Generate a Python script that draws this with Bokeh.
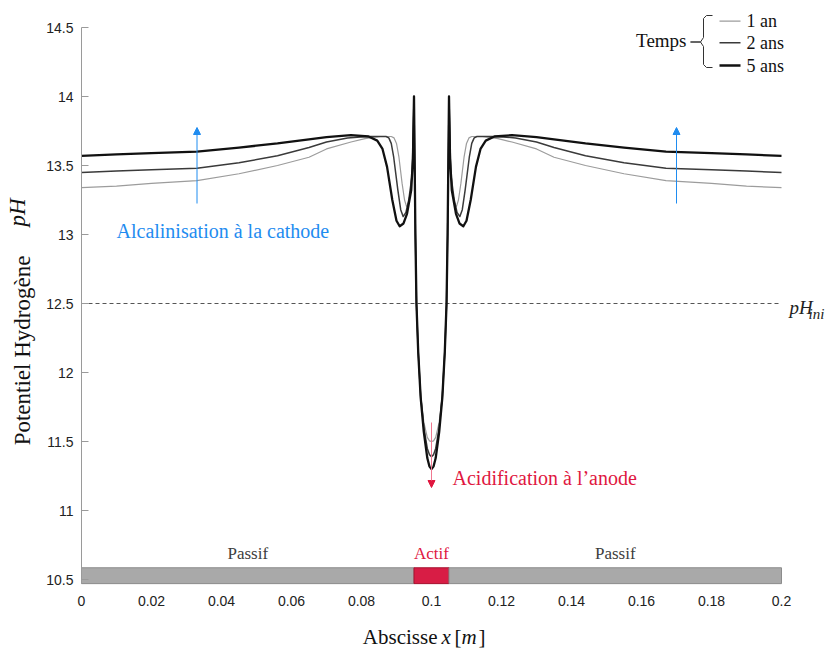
import math
from bokeh.plotting import figure
from bokeh.models import Label, Arrow, NormalHead, FixedTicker, Range1d, LinearAxis
from bokeh.embed import file_html
from bokeh.resources import INLINE

# ---------------- data ----------------
series_names = ["1 an", "2 ans", "5 ans"]

x_1an = [0.000, 0.010, 0.020, 0.033, 0.045, 0.056, 0.065, 0.070, 0.077, 0.081, 0.0854, 0.0885,
         0.0893, 0.0900, 0.0907, 0.0916, 0.0923, 0.0929, 0.0935, 0.0940, 0.0946, 0.0950,
         0.0952, 0.0954, 0.0957, 0.0962, 0.0969, 0.0978, 0.0988, 0.0994, 0.1000,
         0.1006, 0.1012, 0.1022, 0.1031, 0.1038, 0.1043, 0.1046, 0.1048, 0.1050,
         0.1054, 0.1060, 0.1065, 0.1071, 0.1077, 0.1084, 0.1093, 0.1100, 0.1107, 0.1115,
         0.1146, 0.119, 0.123, 0.130, 0.135, 0.144, 0.155, 0.167, 0.180, 0.190, 0.200]
ph_1an = [13.34, 13.35, 13.37, 13.39, 13.44, 13.50, 13.56, 13.62, 13.67, 13.695, 13.71, 13.71,
          13.70, 13.66, 13.56, 13.37, 13.25, 13.20, 13.23, 13.32, 13.55, 14.00,
          13.50, 13.00, 12.50, 12.15, 11.84, 11.64, 11.53, 11.505, 11.50,
          11.505, 11.53, 11.64, 11.84, 12.15, 12.50, 13.00, 13.50, 14.00,
          13.55, 13.32, 13.23, 13.20, 13.25, 13.37, 13.56, 13.66, 13.70, 13.71,
          13.71, 13.695, 13.67, 13.62, 13.56, 13.50, 13.44, 13.39, 13.37, 13.35, 13.34]

x_2ans = [0.000, 0.010, 0.020, 0.033, 0.045, 0.056, 0.065, 0.070, 0.076, 0.0816, 0.0870,
          0.0878, 0.0885, 0.0892, 0.0904, 0.0912, 0.0919, 0.0927, 0.0935, 0.0945, 0.0950,
          0.0952, 0.0954, 0.0957, 0.0962, 0.0969, 0.0978, 0.0988, 0.0994, 0.1000,
          0.1006, 0.1012, 0.1022, 0.1031, 0.1038, 0.1043, 0.1046, 0.1048, 0.1050,
          0.1055, 0.1065, 0.1073, 0.1081, 0.1088, 0.1096, 0.1108, 0.1115, 0.1122, 0.1130,
          0.1184, 0.124, 0.130, 0.135, 0.144, 0.155, 0.167, 0.180, 0.190, 0.200]
ph_2ans = [13.45, 13.46, 13.47, 13.48, 13.52, 13.57, 13.63, 13.67, 13.70, 13.71, 13.71,
           13.70, 13.66, 13.56, 13.32, 13.18, 13.13, 13.16, 13.25, 13.44, 14.00,
           13.50, 13.00, 12.50, 12.15, 11.83, 11.60, 11.45, 11.405, 11.39,
           11.405, 11.45, 11.60, 11.83, 12.15, 12.50, 13.00, 13.50, 14.00,
           13.44, 13.25, 13.16, 13.13, 13.18, 13.32, 13.56, 13.66, 13.70, 13.71,
           13.71, 13.70, 13.67, 13.63, 13.57, 13.52, 13.48, 13.47, 13.46, 13.45]

x_5ans = [0.000, 0.010, 0.020, 0.033, 0.045, 0.056, 0.065, 0.070, 0.077, 0.082, 0.0845,
          0.0860, 0.0873, 0.0888, 0.0900, 0.0909, 0.0920, 0.0930, 0.0942, 0.0947, 0.0950,
          0.0952, 0.0954, 0.0957, 0.0962, 0.0969, 0.0978, 0.0988, 0.0994, 0.1000,
          0.1006, 0.1012, 0.1022, 0.1031, 0.1038, 0.1043, 0.1046, 0.1048, 0.1050,
          0.1053, 0.1058, 0.1070, 0.1080, 0.1091, 0.1100, 0.1112, 0.1127, 0.1140,
          0.1155, 0.118, 0.123, 0.130, 0.135, 0.144, 0.155, 0.167, 0.180, 0.190, 0.200]
ph_5ans = [13.57, 13.58, 13.59, 13.60, 13.63, 13.66, 13.69, 13.705, 13.72, 13.71, 13.68,
           13.62, 13.49, 13.25, 13.10, 13.06, 13.08, 13.15, 13.32, 13.55, 14.00,
           13.50, 13.00, 12.50, 12.15, 11.82, 11.57, 11.38, 11.32, 11.30,
           11.32, 11.38, 11.57, 11.82, 12.15, 12.50, 13.00, 13.50, 14.00,
           13.55, 13.32, 13.15, 13.08, 13.06, 13.10, 13.25, 13.49, 13.62,
           13.68, 13.71, 13.72, 13.705, 13.69, 13.66, 13.63, 13.60, 13.59, 13.58, 13.57]

zone_names = ["Passif", "Actif", "Passif"]
zone_start = [0.0, 0.095, 0.105]
zone_end = [0.095, 0.105, 0.2]

ph_ini = 12.5

x_ticks = [0, 0.02, 0.04, 0.06, 0.08, 0.1, 0.12, 0.14, 0.16, 0.18, 0.2]
x_tick_labels = ["0", "0.02", "0.04", "0.06", "0.08", "0.1", "0.12", "0.14", "0.16", "0.18", "0.2"]
y_ticks = [10.5, 11, 11.5, 12, 12.5, 13, 13.5, 14, 14.5]
y_tick_labels = ["10.5", "11", "11.5", "12", "12.5", "13", "13.5", "14", "14.5"]

# ---------------- styling ----------------
SERIF = "Liberation Serif"
SANS = "Liberation Sans"
series_colors = ["#9c9c9c", "#3a3a3a", "#111111"]
series_widths = [1.2, 1.5, 2.3]
BLUE = "#1f8cf0"
RED = "#e0173f"

W, H = 832, 648
X_LEFT_PX, PX_PER_X = 81.0, 3500.0      # x=0 at 81 px, 0.2 spans 700 px
Y_TOP_PX, PX_PER_Y = 27.0, 138.0        # pH 14.5 at 27 px, 138 px per pH unit
Y_AXIS_BOTTOM = 10.47
BAR_TOP = 10.585

# page pixel -> data helpers (for placement of annotations only)
def px2x(px):
    return (px - X_LEFT_PX) / PX_PER_X

def px2y(py):
    return 14.5 - (py - Y_TOP_PX) / PX_PER_Y

p = figure(width=W, height=H,
           x_range=Range1d(px2x(0), px2x(W)), y_range=Range1d(px2y(H), px2y(0)),
           x_axis_location=None, y_axis_location=None,
           min_border=0, min_border_left=0, min_border_right=0,
           min_border_top=0, min_border_bottom=0,
           output_backend="svg", toolbar_location=None)
p.outline_line_color = None
p.xgrid.visible = False
p.ygrid.visible = False
p.background_fill_color = "white"
p.border_fill_color = "white"

# axes (drawn at fixed data locations so that titles can sit freely around them)
xaxis = LinearAxis(fixed_location=Y_AXIS_BOTTOM, ticker=FixedTicker(ticks=x_ticks))
xaxis.major_label_overrides = dict(zip(x_ticks, x_tick_labels))
xaxis.bounds = (x_ticks[0], x_ticks[-1])
xaxis.axis_line_color = None
xaxis.major_tick_line_color = None
xaxis.minor_tick_line_color = None
xaxis.major_label_standoff = 6
xaxis.major_label_text_font = SANS
xaxis.major_label_text_font_size = "14px"
xaxis.major_label_text_color = "#222222"
p.add_layout(xaxis, "below")

yaxis = LinearAxis(fixed_location=x_ticks[0], ticker=FixedTicker(ticks=y_ticks))
yaxis.major_label_overrides = dict(zip(y_ticks, y_tick_labels))
yaxis.bounds = (Y_AXIS_BOTTOM, y_ticks[-1])
yaxis.axis_line_color = "#9a9a9a"
yaxis.major_tick_line_color = "#9a9a9a"
yaxis.minor_tick_line_color = None
yaxis.major_tick_in = 7
yaxis.major_tick_out = 0
yaxis.major_label_standoff = 8
yaxis.major_label_text_font = SANS
yaxis.major_label_text_font_size = "14px"
yaxis.major_label_text_color = "#222222"
p.add_layout(yaxis, "left")

# electrode bar
zone_fill = ["#a9a9a9" if n == "Passif" else "#d81d45" for n in zone_names]
zone_line = ["#8c8c8c" if n == "Passif" else "#a5122f" for n in zone_names]
p.quad(left=zone_start, right=zone_end, bottom=Y_AXIS_BOTTOM, top=BAR_TOP,
       fill_color=zone_fill, line_color=zone_line, line_width=1)
zone_text_color = ["#3d3d3d" if n == "Passif" else RED for n in zone_names]
for n, a, b, c in zip(zone_names, zone_start, zone_end, zone_text_color):
    p.add_layout(Label(x=(a + b) / 2, y=px2y(553), text=n, text_font=SERIF,
                       text_font_size="17px", text_color=c,
                       text_align="center", text_baseline="middle"))

# initial pH dashed line
p.segment(x0=[zone_start[0]], x1=[zone_end[-1]], y0=[ph_ini], y1=[ph_ini],
          line_color="#555555", line_dash="4 3", line_width=1)
p.add_layout(Label(x=px2x(789), y=ph_ini - 0.03, text="pH", text_font=SERIF,
                   text_font_style="italic", text_font_size="19px", text_color="#222222",
                   text_align="left", text_baseline="alphabetic"))
p.add_layout(Label(x=px2x(808), y=ph_ini - 0.075, text="ini", text_font=SERIF,
                   text_font_style="italic", text_font_size="15px", text_color="#222222",
                   text_align="left", text_baseline="alphabetic"))

# curves
for xs, ys, c, w in zip([x_1an, x_2ans, x_5ans], [ph_1an, ph_2ans, ph_5ans],
                        series_colors, series_widths):
    p.line(xs, ys, line_color=c, line_width=w, line_join="round")

# blue arrows (alkalinisation)
for xa in [0.033, 0.17]:
    p.add_layout(Arrow(x_start=xa, y_start=px2y(203), x_end=xa, y_end=px2y(127),
                       line_color=BLUE, line_width=1,
                       end=NormalHead(size=7, fill_color=BLUE, line_color=BLUE)))
p.add_layout(Label(x=px2x(116), y=px2y(230), text="Alcalinisation  à la cathode",
                   text_font=SERIF, text_font_size="20px", text_color=BLUE,
                   text_align="left", text_baseline="middle"))

# red arrow (acidification)
p.add_layout(Arrow(x_start=0.1, y_start=px2y(422), x_end=0.1, y_end=px2y(487),
                   line_color="#f07890", line_width=1,
                   end=NormalHead(size=7, fill_color=RED, line_color=RED)))
p.add_layout(Label(x=px2x(452), y=px2y(477), text="Acidification à l’anode",
                   text_font=SERIF, text_font_size="20px", text_color=RED,
                   text_align="left", text_baseline="middle"))

# legend (Temps with brace)
p.add_layout(Label(x=px2x(686), y=px2y(40), text="Temps", text_font=SERIF,
                   text_font_size="19px", text_color="#111111",
                   text_align="right", text_baseline="middle"))
brace_px = [(712, 15), (706, 15), (703, 18), (703, 37), (700, 41.5), (690, 41.5),
            (700, 41.5), (703, 46), (703, 64), (706, 67), (712, 67)]
p.line([px2x(a) for a, b in brace_px], [px2y(b) for a, b in brace_px],
       line_color="#333333", line_width=1)
legend_py = [20.7, 42.3, 65]
for name, c, w, py in zip(series_names, series_colors, series_widths, legend_py):
    p.line([px2x(719), px2x(740)], [px2y(py), px2y(py)], line_color=c, line_width=w)
    p.add_layout(Label(x=px2x(746), y=px2y(py), text=name, text_font=SERIF,
                       text_font_size="18px", text_color="#111111",
                       text_align="left", text_baseline="middle"))

# y axis title (with italic pH)
p.add_layout(Label(x=px2x(22), y=px2y(350), text="Potentiel Hydrogène", angle=math.pi / 2,
                   text_font=SERIF, text_font_size="23px", text_color="#111111",
                   text_align="center", text_baseline="middle"))
p.add_layout(Label(x=px2x(17), y=px2y(226), text="pH", angle=math.pi / 2,
                   text_font=SERIF, text_font_style="italic", text_font_size="23px",
                   text_color="#111111", text_align="left", text_baseline="middle"))

# x axis title (with italic x and m)
XL_Y = px2y(636)
for txt, px, style, align in [("Abscisse", 437, "normal", "right"),
                              ("x", 441, "italic", "left"),
                              ("[", 454, "normal", "left"),
                              ("m", 461, "italic", "left"),
                              ("]", 478, "normal", "left")]:
    p.add_layout(Label(x=px2x(px), y=XL_Y, text=txt, text_font=SERIF,
                       text_font_style=style, text_font_size="21px", text_color="#111111",
                       text_align=align, text_baseline="middle"))

open("out.html", "w").write(file_html(p, INLINE))
